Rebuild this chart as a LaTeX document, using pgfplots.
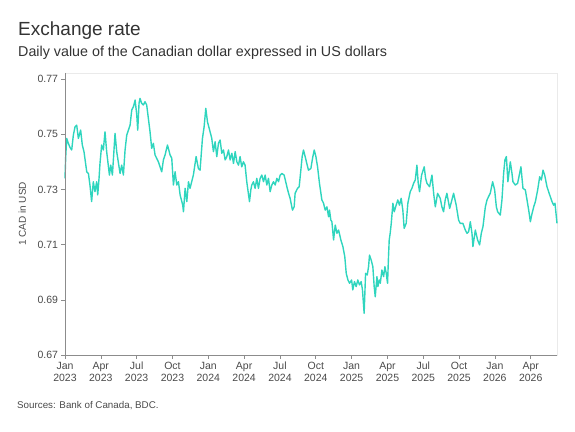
\documentclass[border=0pt]{standalone}
\usepackage{fontspec}
\setmainfont{Liberation Sans}
\usepackage{pgfplots}
\pgfplotsset{compat=1.18}
\definecolor{linecol}{HTML}{2FD5BE}
\definecolor{txt}{HTML}{333333}
\definecolor{ticktxt}{HTML}{4A4A4A}
\definecolor{axcol}{HTML}{8C8C8C}
\definecolor{framecol}{HTML}{EAEAEA}
\begin{document}
\begin{tikzpicture}[x=1pt,y=1pt]
\path[use as bounding box] (0,0) rectangle (575,431);
\node[anchor=base west, text=txt, inner sep=0pt] at (18,395) {\fontsize{19}{22}\selectfont Exchange rate};
\node[anchor=base west, text=txt, inner sep=0pt] at (18,374) {\fontsize{14.3}{16}\selectfont Daily value of the Canadian dollar expressed in US dollars};
\node[anchor=base west, text=ticktxt, inner sep=0pt] at (17,23) {\fontsize{9.8}{12}\selectfont Sources: Bank of Canada, BDC.};
\begin{axis}[
  at={(65pt,76pt)}, anchor=south west,
  scale only axis, width=492pt, height=282pt,
  xmin=0, xmax=41.2, ymin=0.67, ymax=0.7722,
  axis line style={draw=framecol},
  tick pos=left, tick align=outside,
  major tick length=3.5pt,
  tick style={draw=axcol, line width=0.6pt},
  xtick={0,3,6,9,12,15,18,21,24,27,30,33,36,39},
  xticklabels={{Jan\\2023},{Apr\\2023},{Jul\\2023},{Oct\\2023},{Jan\\2024},{Apr\\2024},{Jul\\2024},{Oct\\2024},{Jan\\2025},{Apr\\2025},{Jul\\2025},{Oct\\2025},{Jan\\2026},{Apr\\2026}},
  x tick label style={align=center, font=\fontsize{10.5}{12}\selectfont, text=ticktxt, inner sep=0pt, yshift=-3.5pt},
  ytick={0.67,0.69,0.71,0.73,0.75,0.77},
  y tick label style={font=\fontsize{10.5}{12}\selectfont, text=ticktxt, /pgf/number format/.cd, fixed, fixed zerofill, precision=2, assume math mode=true},
  ylabel={1 CAD in USD},
  ylabel style={at={(axis description cs:-0.087,0.5)}, anchor=center, rotate=0, font=\fontsize{10}{12}\selectfont, text=ticktxt},
  clip=false,
]
\addplot[color=linecol, line width=1.4pt, line join=round] table {
0.00 0.7340
0.06 0.7419
0.14 0.7485
0.28 0.7467
0.42 0.7452
0.56 0.7443
0.70 0.7497
0.84 0.7527
0.98 0.7533
1.12 0.7485
1.31 0.7515
1.45 0.7461
1.59 0.7437
1.82 0.7364
1.96 0.7358
2.09 0.7316
2.23 0.7256
2.37 0.7328
2.51 0.7292
2.65 0.7328
2.74 0.7280
2.85 0.7340
2.93 0.7394
3.07 0.7461
3.21 0.7443
3.35 0.7509
3.49 0.7437
3.72 0.7352
3.83 0.7388
3.97 0.7352
4.19 0.7503
4.33 0.7437
4.61 0.7358
4.75 0.7388
4.89 0.7352
5.03 0.7443
5.17 0.7497
5.45 0.7533
5.59 0.7588
5.73 0.7600
5.87 0.7624
6.01 0.7570
6.09 0.7515
6.20 0.7612
6.28 0.7630
6.42 0.7612
6.56 0.7606
6.70 0.7618
6.84 0.7606
6.98 0.7558
7.12 0.7509
7.26 0.7449
7.40 0.7467
7.54 0.7425
7.82 0.7400
7.96 0.7382
8.10 0.7364
8.24 0.7407
8.38 0.7425
8.58 0.7461
8.80 0.7425
8.94 0.7413
9.08 0.7316
9.22 0.7364
9.36 0.7316
9.50 0.7328
9.64 0.7280
9.86 0.7243
9.92 0.7219
10.06 0.7304
10.20 0.7256
10.34 0.7328
10.47 0.7304
10.75 0.7352
10.98 0.7419
11.17 0.7376
11.31 0.7370
11.51 0.7485
11.65 0.7527
11.79 0.7594
11.93 0.7545
12.15 0.7509
12.29 0.7485
12.43 0.7437
12.57 0.7473
12.71 0.7419
12.85 0.7467
12.99 0.7479
13.13 0.7431
13.27 0.7443
13.41 0.7407
13.55 0.7419
13.69 0.7443
13.83 0.7407
13.97 0.7431
14.11 0.7394
14.25 0.7437
14.39 0.7400
14.53 0.7388
14.66 0.7419
14.80 0.7382
14.94 0.7400
15.08 0.7388
15.22 0.7328
15.45 0.7256
15.56 0.7298
15.64 0.7316
15.78 0.7328
15.92 0.7304
16.06 0.7340
16.20 0.7304
16.34 0.7340
16.48 0.7352
16.62 0.7328
16.76 0.7352
16.90 0.7316
17.04 0.7340
17.18 0.7292
17.32 0.7316
17.46 0.7328
17.60 0.7316
17.74 0.7340
17.88 0.7328
18.02 0.7352
18.16 0.7358
18.35 0.7352
18.58 0.7310
18.72 0.7286
18.85 0.7268
19.05 0.7225
19.19 0.7237
19.27 0.7286
19.47 0.7304
19.61 0.7310
19.75 0.7370
19.86 0.7419
19.97 0.7443
20.11 0.7419
20.25 0.7394
20.39 0.7370
20.59 0.7376
20.73 0.7413
20.87 0.7443
21.01 0.7419
21.15 0.7382
21.31 0.7322
21.51 0.7262
21.65 0.7250
21.79 0.7225
21.93 0.7237
22.07 0.7201
22.15 0.7225
22.26 0.7189
22.35 0.7183
22.49 0.7117
22.63 0.7171
22.77 0.7141
22.91 0.7153
23.10 0.7117
23.27 0.7093
23.43 0.7056
23.55 0.6996
23.69 0.6972
23.83 0.6960
24.00 0.6972
24.10 0.6936
24.24 0.6966
24.38 0.6948
24.52 0.6972
24.66 0.6954
24.80 0.6966
24.91 0.6936
25.05 0.6851
25.17 0.6996
25.31 0.6990
25.42 0.7020
25.50 0.7062
25.64 0.7044
25.78 0.7020
25.89 0.6948
25.98 0.6911
26.12 0.6984
26.20 0.6948
26.31 0.6972
26.40 0.6960
26.54 0.7008
26.68 0.6984
26.79 0.7020
26.90 0.6996
27.01 0.6960
27.09 0.7056
27.15 0.7117
27.23 0.7141
27.32 0.7177
27.46 0.7250
27.57 0.7219
27.73 0.7243
27.87 0.7262
28.01 0.7243
28.15 0.7268
28.29 0.7225
28.40 0.7159
28.57 0.7177
28.71 0.7250
28.91 0.7292
29.05 0.7304
29.19 0.7322
29.33 0.7334
29.47 0.7388
29.58 0.7322
29.69 0.7292
29.86 0.7352
30.08 0.7382
30.20 0.7340
30.31 0.7322
30.53 0.7310
30.73 0.7352
30.87 0.7286
31.01 0.7237
31.20 0.7286
31.42 0.7268
31.56 0.7237
31.70 0.7219
31.84 0.7262
31.98 0.7286
32.21 0.7231
32.40 0.7262
32.54 0.7286
32.76 0.7243
32.96 0.7189
33.10 0.7177
33.32 0.7177
33.52 0.7153
33.66 0.7141
33.80 0.7147
33.94 0.7183
34.08 0.7141
34.16 0.7093
34.36 0.7153
34.55 0.7117
34.72 0.7099
34.86 0.7141
35.00 0.7165
35.20 0.7237
35.34 0.7262
35.47 0.7274
35.61 0.7286
35.81 0.7328
35.98 0.7298
36.12 0.7237
36.23 0.7219
36.45 0.7207
36.59 0.7262
36.73 0.7358
36.84 0.7407
36.96 0.7419
37.09 0.7328
37.29 0.7400
37.43 0.7358
37.51 0.7328
37.71 0.7316
37.90 0.7322
38.07 0.7358
38.18 0.7382
38.35 0.7304
38.55 0.7298
38.69 0.7262
38.83 0.7225
38.97 0.7183
39.11 0.7213
39.25 0.7237
39.39 0.7256
39.58 0.7298
39.75 0.7346
39.89 0.7334
40.03 0.7370
40.17 0.7352
40.36 0.7310
40.59 0.7280
40.78 0.7256
40.92 0.7243
41.03 0.7250
41.20 0.7177
};
\draw[axcol, line width=0.8pt] (rel axis cs:0,1) -- (rel axis cs:0,0) -- (rel axis cs:1,0);
\end{axis}
\end{tikzpicture}
\end{document}
